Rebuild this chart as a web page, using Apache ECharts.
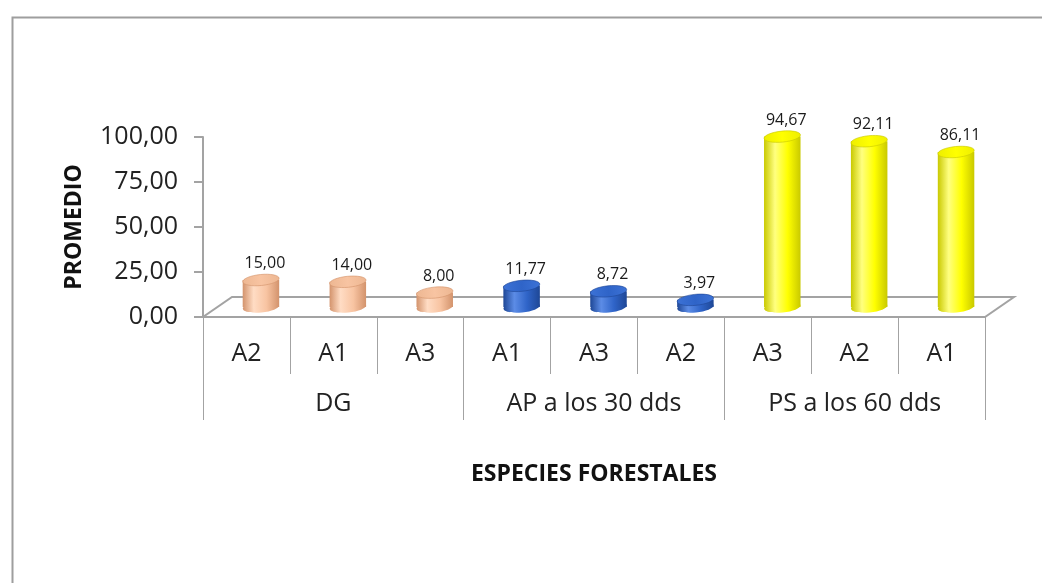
<!DOCTYPE html>
<html>
<head>
<meta charset="utf-8">
<script src="https://cdn.jsdelivr.net/npm/echarts@6/dist/echarts.min.js"></script>
<style>
  html, body { margin: 0; padding: 0; background: #ffffff; }
  #chart { width: 1042px; height: 583px; }
</style>
</head>
<body>
<div id="chart"></div>
<script>
// Species groups and the treatment under each bar
const groups = ['DG', 'AP a los 30 dds', 'PS a los 60 dds'];
const treatments = ['A2', 'A1', 'A3', 'A1', 'A3', 'A2', 'A3', 'A2', 'A1'];

// Mean values per group, in the same order as the treatments
const dgValues = [15.00, 14.00, 8.00];
const apValues = [11.77, 8.72, 3.97];
const psValues = [94.67, 92.11, 86.11];

// Value axis range
const yMin = 0;
const yMax = 100;
const yStep = 25;

// Colours per group: [edge, highlight, body, top]
const palette = [
  ['#D3936C', '#FFDCC4', '#F8C4A2', '#EDB792'],
  ['#1E4796', '#5C8CE6', '#2F64C8', '#3C72D6'],
  ['#C9C900', '#FFFF80', '#FFFF00', '#EEEE00']
];

const allValues = [dgValues, apValues, psValues];
const barData = [];
allValues.forEach(function (vals, g) {
  vals.forEach(function (v, i) {
    barData.push([g * 3 + i, v, g]);
  });
});

// Floor depth of the pseudo-3D plot area (pixels)
const DEPTH_X = 29;
const DEPTH_Y = -20;

const fmt = function (v) { return v.toFixed(2).replace('.', ','); };
const FONT = '"Open Sans", "Noto Sans", sans-serif';
const GRAY = '#A3A3A3';

const chart = echarts.init(document.getElementById('chart'));

chart.setOption({
  animation: false,
  backgroundColor: '#ffffff',
  graphic: [{
    type: 'rect',
    left: 10, top: 15,
    shape: { width: 1100, height: 700 },
    style: { fill: 'none', stroke: '#9E9E9E', lineWidth: 2 },
    silent: true
  }],
  grid: { left: 203, top: 137, width: 782, height: 180 },
  xAxis: [{
    type: 'category',
    data: treatments,
    position: 'bottom',
    axisLine: { show: true, lineStyle: { color: GRAY, width: 2 } },
    axisTick: { show: true, length: 57, lineStyle: { color: GRAY, width: 1 } },
    axisLabel: { fontFamily: FONT, fontSize: 25, color: '#222', margin: 24 },
    splitLine: { show: false }
  }, {
    type: 'category',
    data: groups,
    position: 'bottom',
    axisLine: { show: false },
    axisTick: { show: true, length: 103, lineStyle: { color: GRAY, width: 1 } },
    axisLabel: { fontFamily: FONT, fontSize: 25, color: '#222', margin: 74 },
    name: 'ESPECIES FORESTALES',
    nameLocation: 'middle',
    nameGap: 146,
    nameTextStyle: { fontFamily: FONT, fontSize: 23, fontWeight: 'bold', color: '#111' }
  }],
  yAxis: {
    type: 'value',
    min: yMin, max: yMax, interval: yStep,
    axisLine: { show: true, lineStyle: { color: GRAY, width: 2 } },
    axisTick: { show: true, length: 9, lineStyle: { color: GRAY, width: 2 } },
    axisLabel: { fontFamily: FONT, fontSize: 25, color: '#222', margin: 25, formatter: fmt },
    splitLine: { show: false },
    name: 'PROMEDIO',
    nameLocation: 'middle',
    nameGap: 117,
    nameTextStyle: { fontFamily: FONT, fontSize: 23, fontWeight: 'bold', color: '#111' }
  },
  series: [{
    // floor of the plot area
    type: 'custom',
    xAxisIndex: 0,
    data: [[0, 0]],
    z: 1,
    renderItem: function (params, api) {
      const cs = params.coordSys;
      const yb = cs.y + cs.height;
      return {
        type: 'polygon',
        shape: { points: [
          [cs.x, yb], [cs.x + cs.width, yb],
          [cs.x + cs.width + DEPTH_X, yb + DEPTH_Y], [cs.x + DEPTH_X, yb + DEPTH_Y]
        ] },
        style: { fill: '#ffffff', stroke: GRAY, lineWidth: 2 },
        silent: true
      };
    }
  }, {
    // cylinders with value labels
    type: 'custom',
    xAxisIndex: 0,
    data: barData,
    z: 3,
    encode: { x: 0, y: 1 },
    renderItem: function (params, api) {
      const idx = api.value(0);
      const val = api.value(1);
      const g = api.value(2);
      const base = api.coord([idx, 0]);
      const top = api.coord([idx, val]);
      const band = api.size([1, 0])[0];
      const rx = band * 0.21;
      const ry = 5.5;
      const cx = base[0] + DEPTH_X / 2;
      const by = base[1] + DEPTH_Y / 2;
      const ty = top[1] + DEPTH_Y / 2;
      const c = palette[g];
      const bodyFill = new echarts.graphic.LinearGradient(0, 0, 1, 0, [
        { offset: 0, color: c[0] },
        { offset: 0.3, color: c[1] },
        { offset: 0.65, color: c[2] },
        { offset: 1, color: c[0] }
      ]);
      const topFill = new echarts.graphic.LinearGradient(0, 0, 1, 0, [
        { offset: 0, color: c[3] },
        { offset: 0.5, color: c[2] },
        { offset: 1, color: c[3] }
      ]);
      return {
        type: 'group',
        children: [{
          type: 'ellipse',
          shape: { cx: cx, cy: by, rx: rx, ry: ry },
          rotation: 0.1, originX: cx, originY: by,
          style: { fill: bodyFill }
        }, {
          type: 'rect',
          shape: { x: cx - rx, y: ty, width: rx * 2, height: by - ty },
          style: { fill: bodyFill }
        }, {
          type: 'ellipse',
          shape: { cx: cx, cy: ty, rx: rx, ry: ry },
          rotation: 0.1, originX: cx, originY: ty,
          style: { fill: topFill, stroke: c[0], lineWidth: 0.6 }
        }, {
          type: 'text',
          x: cx + 4, y: ty - ry - 3,
          style: {
            text: fmt(val),
            fontFamily: FONT, fontSize: 16, fill: '#1a1a1a',
            align: 'center', verticalAlign: 'bottom'
          }
        }]
      };
    }
  }]
});
</script>
</body>
</html>
